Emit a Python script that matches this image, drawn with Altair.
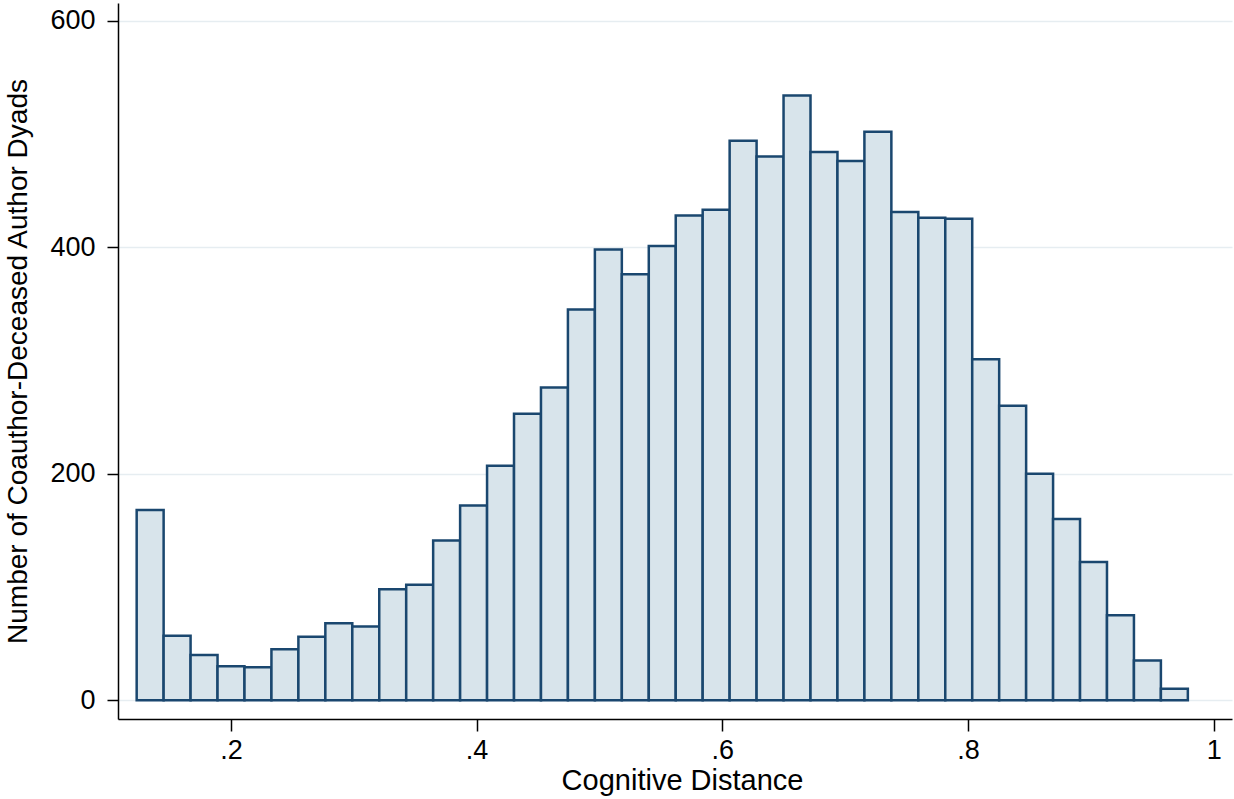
import altair as alt
import pandas as pd

# Histogram counts (39 equal-width bins)
counts = [168, 57, 40, 30, 29, 45, 56, 68, 65, 98, 102, 141, 172, 207, 253, 276,
          345, 398, 376, 401, 428, 433, 494, 480, 534, 484, 476, 502, 431, 426,
          425, 301, 260, 200, 160, 122, 75, 35, 10]
first_edge = 0.1233
bin_width = 0.02194

x_ticks = [0.2, 0.4, 0.6, 0.8, 1.0]
y_ticks = [0, 200, 400, 600]

df = pd.DataFrame({
    "lo": [first_edge + i * bin_width for i in range(len(counts))],
    "hi": [first_edge + (i + 1) * bin_width for i in range(len(counts))],
    "count": counts,
})

FONT = "Liberation Sans"

bars = alt.Chart(df).mark_bar(
    fill="#d8e4eb", stroke="#1a476f", strokeWidth=2.5, strokeJoin="miter"
).encode(
    x=alt.X("lo:Q",
            scale=alt.Scale(domain=[0.1081, 1.0149], nice=False, zero=False),
            axis=alt.Axis(
                values=x_ticks,
                labelExpr="datum.value >= 1 ? '1' : '.' + format(datum.value * 10, '.0f')",
                title="Cognitive Distance",
                grid=False,
                domainColor="black", domainWidth=1.5,
                tickColor="black", tickWidth=1.5, tickSize=12,
                labelFont=FONT, labelFontSize=27, labelColor="black",
                labelPadding=6, labelFlush=False,
                titleFont=FONT, titleFontSize=29, titleFontWeight="normal",
                titleColor="black", titleX=564, titleY=70,
                titleBaseline="alphabetic", titleAnchor="middle", titleAlign="center",
            )),
    x2="hi:Q",
    y=alt.Y("count:Q",
            scale=alt.Scale(domain=[-16.6, 615.6], nice=False, zero=False),
            axis=alt.Axis(
                values=y_ticks,
                format="d",
                title="Number of Coauthor-Deceased Author Dyads",
                grid=True, gridColor="#e6edf1", gridWidth=1.5,
                domainColor="black", domainWidth=1.5,
                tickColor="black", tickWidth=1.5, tickSize=11,
                labelFont=FONT, labelFontSize=27, labelColor="black",
                labelPadding=12, labelFlush=False, labelBaseline="middle",
                titleFont=FONT, titleFontSize=28, titleFontWeight="normal",
                titleColor="black", titleAngle=270, titleX=-92, titleY=358,
                titleBaseline="alphabetic", titleAlign="center",
            )),
    y2=alt.datum(0),
)

chart = bars.properties(
    width=1114, height=716,
    padding={"left": 118, "top": 3, "right": 2, "bottom": 80},
    autosize=alt.AutoSizeParams(type="none"),
    background="white",
).configure_view(stroke=None)

chart.save("out.html", embed_options={"renderer": "svg", "actions": False})
